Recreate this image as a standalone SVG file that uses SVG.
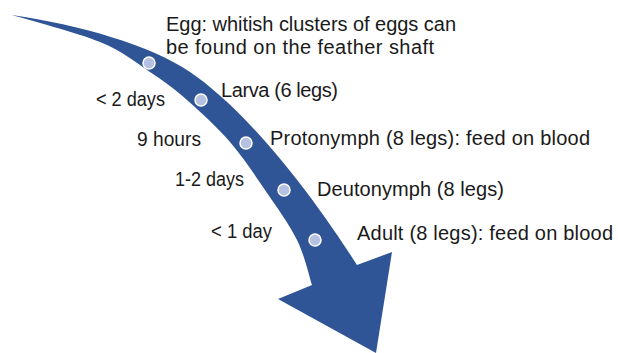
<svg xmlns="http://www.w3.org/2000/svg" width="618" height="353" viewBox="0 0 618 353">
<style>
text{font-family:"Liberation Sans",Arial,sans-serif;font-size:20px;fill:#1a1a1a}
.dur{text-anchor:end}
.dot{fill:#b4c1e2;stroke:#ffffff;stroke-width:1.5}
.arrow{fill:#2f5597}
</style>
<rect width="618" height="353" fill="#ffffff"/>
<g id="connectors">
<path class="arrow" d="M12,15 C80,25 150,45 190,72 S290,160 357,265 L392,252 L376,353 L278,299 L312,285 C309.5,277.5 304.8,255.8 297,240 C289.2,224.2 276.2,206.3 265,190 C253.8,173.7 243,157 230,142 C217,127 200.3,111.7 187,100 C173.7,88.3 164.5,81.7 150,72 C135.5,62.3 123,51.5 100,42 C77,32.5 26.7,19.5 12,15 Z"/>
</g>
<g id="egg">
<circle class="dot" cx="149" cy="63" r="6"/>
<text x="166" y="31" textLength="290">Egg: whitish clusters of eggs can</text>
<text x="166" y="54" textLength="268">be found on the feather shaft</text>
</g>
<g id="larva">
<circle class="dot" cx="201" cy="100" r="6"/>
<text x="221" y="97" textLength="117">Larva (6 legs)</text>
</g>
<g id="protonymph">
<circle class="dot" cx="246" cy="143" r="6"/>
<text x="270" y="145" textLength="320">Protonymph (8 legs): feed on blood</text>
</g>
<g id="deutonymph">
<circle class="dot" cx="284" cy="190" r="6"/>
<text x="317" y="196" textLength="187">Deutonymph (8 legs)</text>
</g>
<g id="adult">
<circle class="dot" cx="315" cy="240" r="6"/>
<text x="357" y="240" textLength="256">Adult (8 legs): feed on blood</text>
</g>
<g id="durations">
<text x="96" y="106" textLength="69" lengthAdjust="spacingAndGlyphs">&lt; 2 days</text>
<text x="137" y="146" textLength="64" lengthAdjust="spacingAndGlyphs">9 hours</text>
<text x="175" y="186" textLength="69" lengthAdjust="spacingAndGlyphs">1-2 days</text>
<text x="211" y="238" textLength="61" lengthAdjust="spacingAndGlyphs">&lt; 1 day</text>
</g>
</svg>
